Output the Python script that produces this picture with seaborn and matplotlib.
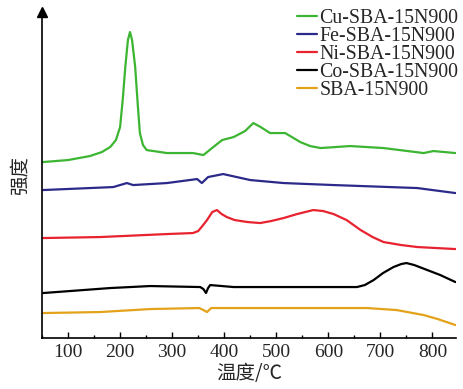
import numpy as np
import pandas as pd
import seaborn as sns
import matplotlib.pyplot as plt
from matplotlib.ticker import MultipleLocator

# Temperature-programmed signal traces (offset, arbitrary intensity units)
cu_t = [52, 100, 142, 165, 181, 192, 200, 205, 210, 215, 219, 223, 229, 234, 238, 244, 251,
        290, 340, 360, 379, 396, 418, 440, 456, 470, 488, 517, 530, 546, 565, 585, 642, 706,
        783, 802, 844]
cu_i = [176, 178, 182, 186, 191, 198, 211, 238, 271, 298, 306, 298, 271, 233, 205, 193, 188,
        185, 185, 183, 191, 198, 201, 207, 215, 211, 205, 205, 201, 196, 192, 190, 192, 190,
        185, 187, 185]

fe_t = [52, 187, 213, 225, 290, 348, 357, 369, 398, 450, 514, 610, 771, 800, 844]
fe_i = [148, 151, 155, 153, 155, 159, 155, 161, 164, 158, 155, 153, 150, 148, 145]

ni_t = [52, 162, 290, 340, 350, 358, 367, 377, 386, 395, 405, 420, 445, 469, 490, 514, 540,
        571, 590, 610, 635, 662, 685, 706, 740, 771, 844]
ni_i = [100, 101, 104, 105, 107, 112, 118, 126, 128, 124, 121, 118, 116, 115, 117, 120, 124,
        128, 127, 124, 118, 108, 101, 96, 93, 91, 89]

co_t = [52, 181, 258, 354, 360, 365, 369, 373, 418, 655, 670, 687, 705, 725, 740, 750, 765,
        790, 815, 844]
co_i = [45, 50, 52, 51, 49, 45, 50, 53, 51, 51, 53, 58, 65, 71, 74, 75, 73, 68, 63, 56]

sba_t = [52, 162, 258, 352, 360, 367, 375, 546, 674, 731, 783, 810, 844]
sba_i = [25, 26, 29, 30, 28, 26, 30, 30, 30, 28, 23, 19, 13]

names = ["Cu-SBA-15N900", "Fe-SBA-15N900", "Ni-SBA-15N900", "Co-SBA-15N900", "SBA-15N900"]
colors = ["#3cb532", "#2b2a8a", "#e8222f", "#000000", "#e3a21a"]

series = [(cu_t, cu_i), (fe_t, fe_i), (ni_t, ni_i), (co_t, co_i), (sba_t, sba_i)]
df = pd.concat(
    [pd.DataFrame({"T": t, "I": i, "sample": n}) for (t, i), n in zip(series, names)],
    ignore_index=True,
)

sns.set_theme(style="ticks")
plt.rcParams["font.family"] = ["Liberation Serif", "Noto Sans CJK SC"]

fig = plt.figure(figsize=(4.63, 3.89), dpi=100)
ax = fig.add_axes([0.0907, 0.131, 0.894, 0.838])

sns.lineplot(data=df, x="T", y="I", hue="sample", hue_order=names,
             palette=dict(zip(names, colors)), estimator=None, sort=False,
             linewidth=1.6, ax=ax)

ax.set_xlim(50, 845)
ax.set_ylim(0, 326)
ax.xaxis.set_major_locator(MultipleLocator(100))
ax.xaxis.set_minor_locator(MultipleLocator(50))
ax.tick_params(axis="x", which="major", direction="in", length=4, width=1,
               labelsize=14, pad=4, color="black")
ax.tick_params(axis="x", which="minor", direction="in", length=2, width=1, color="black")
ax.set_yticks([])
for s in ["top", "right"]:
    ax.spines[s].set_visible(False)
for s in ["left", "bottom"]:
    ax.spines[s].set_color("black")
    ax.spines[s].set_linewidth(1.2)

# arrow head on the intensity axis
ax.plot([0], [1], marker="^", color="black", markersize=7, transform=ax.transAxes,
        clip_on=False)

ax.set_xlabel("温度/℃", fontsize=14, labelpad=2,
              family=["Noto Sans CJK SC", "DejaVu Sans"])
ax.set_ylabel("强度", fontsize=14, labelpad=8, family=["Noto Sans CJK SC"])

leg = ax.legend(loc="upper right", bbox_to_anchor=(1.025, 1.035), frameon=False,
                fontsize=14.3, handlelength=1.0, handletextpad=0.1,
                labelspacing=-0.05, borderaxespad=0.0)
for h in leg.get_lines():
    h.set_linewidth(1.6)

fig.savefig("out.png", dpi=100)
